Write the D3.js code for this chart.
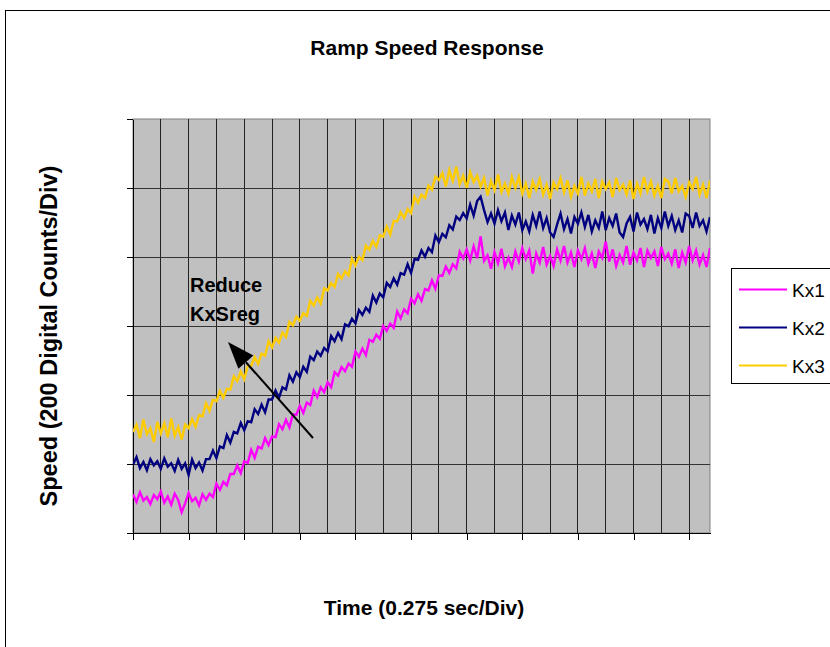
<!DOCTYPE html>
<html><head><meta charset="utf-8">
<script src="https://cdn.jsdelivr.net/npm/d3@7"></script>
<style>
body{margin:0;background:#fff}
svg{display:block}
text{font-family:"Liberation Sans",Arial,Helvetica,sans-serif}
</style></head><body>
<svg id="chart" width="830" height="647"></svg>
<script>
// ---- data (speed in digital counts, one value per sample; 8 samples per 0.275 s division) ----
const seriesNames = ["Kx1", "Kx2", "Kx3"];
const seriesColors = ["#ff00ff", "#000080", "#ffcc00"];
const kx1 = [112,90,118,94,104,84,110,98,120,88,106,82,114,96,60,86,116,92,102,80,112,96,114,104,
143,125,148,138,171,171,196,174,208,203,241,218,250,245,275,255,280,278,315,301,328,306,344,343,369,348,
378,371,413,394,422,408,437,423,466,456,481,469,491,482,526,511,535,516,560,554,575,563,600,586,607,595,
642,622,648,637,679,666,692,673,707,703,732,708,747,745,772,754,779,767,815,796,
822,790,831,796,860,789,805,766,814,782,824,773,798,771,816,787,826,794,819,752,810,784,829,778,803,774,
822,790,832,784,813,771,819,794,826,781,810,768,816,797,845,787,822,774,806,784,832,778,813,790,826,771,
819,797,816,774,829,794,810,781,822,768,813,784,832,790,819,778,806,771,826];
const kx2 = [198,220,188,206,182,214,196,208,186,216,192,202,180,212,186,202,168,213,188,204,
181,214,214,239,217,251,246,284,262,293,289,319,298,324,321,359,345,372,350,387,387,413,392,422,416,457,
439,466,452,482,467,511,501,526,514,536,527,571,556,580,562,605,599,621,608,646,632,653,641,688,668,694,
683,725,713,738,720,753,749,779,754,794,792,819,801,826,814,862,843,867,857,892,880,917,907,927,912,
952,920,962,975,936,901,926,897,936,904,929,878,920,894,929,878,903,874,922,890,932,884,913,871,858,894,
926,881,910,868,916,897,929,887,922,874,906,884,932,878,913,890,926,871,858,897,916,874,929,894,910,881,
922,868,913,884,932,890,919,878,906,871,926,919,884,929,890,906,874,916];
const kx3 = [293,314,275,329,286,304,264,322,289,318,278,332,282,307,271,314,
304,330,308,342,338,376,354,386,382,412,392,418,416,454,440,468,446,484,484,510,490,520,514,556,538,566,
552,581,568,612,602,627,615,637,629,673,659,683,665,709,703,725,713,751,737,759,747,795,775,801,791,833,
821,847,829,863,859,889,865,905,903,930,913,939,927,975,957,981,971,1007,995,1033,1023,
1043,1004,1052,1020,1062,1011,1036,1001,1046,1017,1036,1004,1029,978,1020,994,1039,988,1013,984,1032,1000,
1032,984,1013,971,1019,994,1026,981,1010,968,1016,997,1029,987,1022,974,1006,984,1032,978,1013,990,1026,
971,1019,997,1016,974,1029,994,1010,981,1022,968,1013,984,1032,990,1019,978,1006,971,1026,1019,984,1029,
990,1006,974,1016,997,1032,981,1010,971,1022];
const yTicks = [0, 200, 400, 600, 800, 1000, 1200];
const samplesPerDiv = 8;
const titleText = "Ramp Speed Response";
const xTitle = "Time (0.275 sec/Div)";
const yTitle = "Speed (200 Digital Counts/Div)";
const annotationLines = ["Reduce", "KxSreg"];

// ---- layout ----
const svg = d3.select("#chart");
const P = {left: 133, right: 710, top: 119, bottom: 533};
const nSamples = kx1.length - 1;
const x = d3.scaleLinear().domain([0, nSamples]).range([P.left, P.right]);
const y = d3.scaleLinear().domain([0, 1200]).range([P.bottom, P.top]);

// outer chart border (extends past the photographed area)
svg.append("rect").attr("x", 5.5).attr("y", 10.5).attr("width", 900).attr("height", 700)
  .attr("fill", "none").attr("stroke", "#000").attr("stroke-width", 1);

// plot area
svg.append("rect").attr("x", P.left).attr("y", P.top)
  .attr("width", P.right - P.left).attr("height", P.bottom - P.top)
  .attr("fill", "#c0c0c0").attr("stroke", "#808080").attr("stroke-width", 1);

// gridlines
const gx = d3.range(samplesPerDiv, nSamples, samplesPerDiv);
svg.append("g").selectAll("line").data(gx).join("line")
  .attr("x1", d => x(d)).attr("x2", d => x(d)).attr("y1", P.top).attr("y2", P.bottom)
  .attr("stroke", "#222").attr("stroke-width", 1).attr("shape-rendering", "crispEdges");
svg.append("g").selectAll("line").data(yTicks.slice(1, -1)).join("line")
  .attr("x1", P.left).attr("x2", P.right).attr("y1", d => y(d)).attr("y2", d => y(d))
  .attr("stroke", "#333").attr("stroke-width", 1).attr("shape-rendering", "crispEdges");

// axes (no labels, just tick marks)
const yAxis = d3.axisLeft(y).tickValues(yTicks).tickSize(6).tickSizeOuter(0).tickFormat("");
const gy = svg.append("g").attr("transform", `translate(${P.left},0)`).call(yAxis);
const xAxis = d3.axisBottom(x).tickValues(d3.range(0, nSamples, samplesPerDiv * 2))
  .tickSize(7).tickSizeOuter(0).tickFormat("");
const gxA = svg.append("g").attr("transform", `translate(0,${P.bottom})`).call(xAxis);
[gy, gxA].forEach(g => {
  g.selectAll("path,line").attr("stroke", "#000").attr("shape-rendering", "crispEdges");
});

// series lines
const seriesData = [kx1, kx2, kx3];
const line = d3.line().x((d, i) => x(i)).y(d => y(d));
svg.append("defs").append("clipPath").attr("id", "clip").append("rect")
  .attr("x", P.left).attr("y", P.top).attr("width", P.right - P.left).attr("height", P.bottom - P.top);
svg.append("g").attr("clip-path", "url(#clip)").selectAll("path").data(seriesData).join("path")
  .attr("d", d => line(d)).attr("fill", "none")
  .attr("stroke", (d, i) => seriesColors[i]).attr("stroke-width", 2.4)
  .attr("stroke-linejoin", "miter");

// annotation arrow
const ax1 = 313, ay1 = 438, ax2 = 228, ay2 = 342;
const ang = Math.atan2(ay2 - ay1, ax2 - ax1);
const headL = 27, headW = 10;
const bx = ax2 - headL * Math.cos(ang), by = ay2 - headL * Math.sin(ang);
svg.append("line").attr("x1", ax1).attr("y1", ay1).attr("x2", bx).attr("y2", by)
  .attr("stroke", "#000").attr("stroke-width", 2);
svg.append("polygon").attr("points", [
  [ax2, ay2],
  [bx + headW * Math.sin(ang), by - headW * Math.cos(ang)],
  [bx - headW * Math.sin(ang), by + headW * Math.cos(ang)]
].map(p => p.join(",")).join(" ")).attr("fill", "#000");
svg.append("text").attr("x", 190).attr("y", 292).attr("font-size", 20).attr("font-weight", "bold")
  .selectAll("tspan").data(annotationLines).join("tspan")
  .attr("x", 190).attr("dy", (d, i) => i ? 29 : 0).text(d => d);

// titles
svg.append("text").attr("x", 427).attr("y", 55).attr("text-anchor", "middle")
  .attr("font-size", 21).attr("font-weight", "bold").text(titleText);
svg.append("text").attr("x", 424).attr("y", 615).attr("text-anchor", "middle")
  .attr("font-size", 21).attr("font-weight", "bold").text(xTitle);
svg.append("text").attr("transform", "translate(57,336) rotate(-90)").attr("text-anchor", "middle")
  .attr("font-size", 23.5).attr("font-weight", "bold").text(yTitle);

// legend
const L = {x: 731.5, y: 268.5};
svg.append("rect").attr("x", L.x).attr("y", L.y).attr("width", 150).attr("height", 115)
  .attr("fill", "#fff").attr("stroke", "#000").attr("stroke-width", 1);
const lg = svg.append("g").selectAll("g").data(seriesNames).join("g")
  .attr("transform", (d, i) => `translate(0,${289.5 + i * 38})`);
lg.append("line").attr("x1", 739).attr("x2", 787).attr("y1", 0).attr("y2", 0)
  .attr("stroke", (d, i) => seriesColors[i]).attr("stroke-width", 2);
lg.append("text").attr("x", 792).attr("y", 7).attr("font-size", 19).text(d => d);
</script></body></html>
